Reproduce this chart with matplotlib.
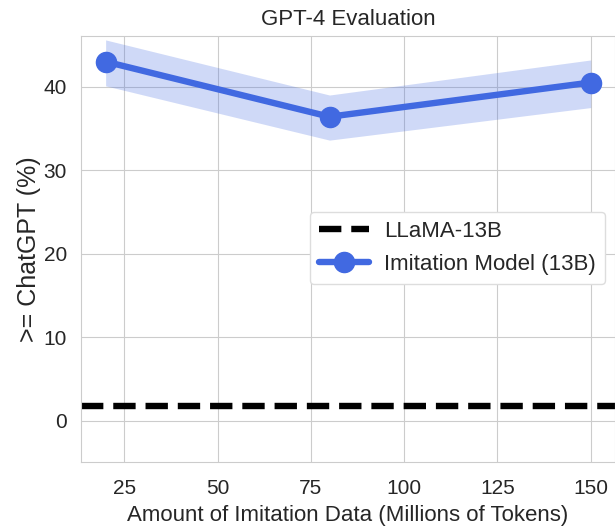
import matplotlib
matplotlib.use("Agg")
import matplotlib.pyplot as plt
import seaborn as sns

# data
tokens = [20, 80, 150]
imitation_mean = [43.0, 36.4, 40.5]
imitation_low = [40.1, 33.6, 37.5]
imitation_high = [45.6, 39.0, 43.2]
llama_baseline = 1.7

sns.set_style("whitegrid")
plt.rcParams["font.family"] = ["Liberation Sans", "DejaVu Sans"]

fig = plt.figure(figsize=(6.15, 5.26), dpi=100)
W, H = 615, 526
ax = fig.add_axes([81 / W, (H - 462) / H, (615 - 81) / W, (462 - 36) / H])

blue = "royalblue"
ax.axhline(llama_baseline, color="black", linestyle=(0, (3.5, 1.55)), linewidth=4.6,
           label="LLaMA-13B")
ax.fill_between(tokens, imitation_low, imitation_high, color=blue, alpha=0.25, linewidth=0)
ax.plot(tokens, imitation_mean, color=blue, linewidth=4.6, marker="o", markersize=14.5,
        label="Imitation Model (13B)")

ax.set_xlim(13.4, 156.5)
ax.set_ylim(-4.95, 46.07)
ax.set_xticks([25, 50, 75, 100, 125, 150])
ax.set_yticks([0, 10, 20, 30, 40])
ax.tick_params(labelsize=15, length=0, pad=10)
ax.tick_params(axis="x", pad=12)
ax.set_title("GPT-4 Evaluation", fontsize=16, pad=8)
ax.set_xlabel("Amount of Imitation Data (Millions of Tokens)", fontsize=16, labelpad=5)
ax.set_ylabel(">= ChatGPT (%)", fontsize=18, labelpad=2)

ax.legend(loc="upper left", bbox_to_anchor=(310 / W, 1 - 212 / H),
          bbox_transform=fig.transFigure, fontsize=16, handlelength=2.25,
          handletextpad=0.7, labelspacing=0.55, borderaxespad=0,
          framealpha=1, edgecolor="#dddddd")

fig.savefig("out.png", dpi=100)
